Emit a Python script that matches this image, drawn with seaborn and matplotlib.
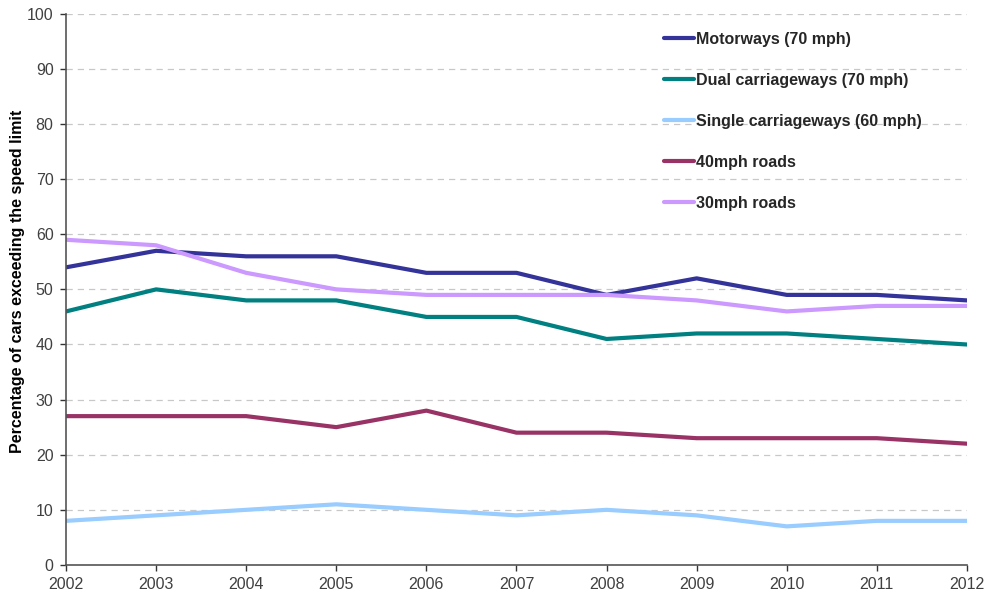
import numpy as np
import pandas as pd
import matplotlib
matplotlib.use("Agg")
import matplotlib.pyplot as plt
import seaborn as sns

years = [2002, 2003, 2004, 2005, 2006, 2007, 2008, 2009, 2010, 2011, 2012]
motorways = [54, 57, 56, 56, 53, 53, 49, 52, 49, 49, 48]
dual = [46, 50, 48, 48, 45, 45, 41, 42, 42, 41, 40]
single = [8, 9, 10, 11, 10, 9, 10, 9, 7, 8, 8]
roads40 = [27, 27, 27, 25, 28, 24, 24, 23, 23, 23, 22]
roads30 = [59, 58, 53, 50, 49, 49, 49, 48, 46, 47, 47]

series_names = ["Motorways (70 mph)", "Dual carriageways (70 mph)",
                "Single carriageways (60 mph)", "40mph roads", "30mph roads"]
series_vals = [motorways, dual, single, roads40, roads30]
colors = ["#333399", "#008080", "#99CCFF", "#993366", "#CC99FF"]

df = pd.concat([pd.DataFrame({"Year": years, "Value": v, "Series": n})
                for n, v in zip(series_names, series_vals)], ignore_index=True)

sns.set_theme(style="white")
plt.rcParams["font.family"] = ["Liberation Sans", "DejaVu Sans"]

fig = plt.figure(figsize=(9.9, 6.01), dpi=100)
ax = fig.add_axes([0.0667, 0.060, 0.910, 0.917])

sns.lineplot(data=df, x="Year", y="Value", hue="Series", hue_order=series_names,
             palette=colors, linewidth=3, ax=ax, legend=True)

ax.set_xlim(2002, 2012)
ax.set_ylim(0, 100)
ax.set_xticks(years)
ax.set_xticklabels([str(y) for y in years])
ax.set_yticks(np.arange(0, 101, 10))
ax.tick_params(axis="both", labelsize=11.5, labelcolor="#404040", color="#333333",
               length=4, width=1, direction="out", bottom=True, left=True)
ax.tick_params(axis="x", pad=5)
ax.tick_params(axis="y", pad=5)
ax.set_xlabel("")
ax.set_ylabel("Percentage of cars exceeding the speed limit", fontsize=11.5,
              fontweight="bold", color="black")
ax.yaxis.set_label_coords(-0.045, 0.515)
ax.yaxis.grid(True, linestyle=(0, (5, 4)), color="#c8c8c8", linewidth=0.9)
ax.xaxis.grid(False)
for s in ["top", "right"]:
    ax.spines[s].set_visible(False)
for s in ["left", "bottom"]:
    ax.spines[s].set_color("#555555")
    ax.spines[s].set_linewidth(1.2)

handles, labels = ax.get_legend_handles_labels()
leg = ax.legend(handles, labels, loc="upper left", bbox_to_anchor=(0.648, 0.993),
                frameon=False, prop={"weight": "bold", "size": 11.5},
                labelspacing=1.62, handlelength=1.85, handletextpad=0.15)
for line in leg.get_lines():
    line.set_linewidth(3)

fig.savefig("out.png", dpi=100)
